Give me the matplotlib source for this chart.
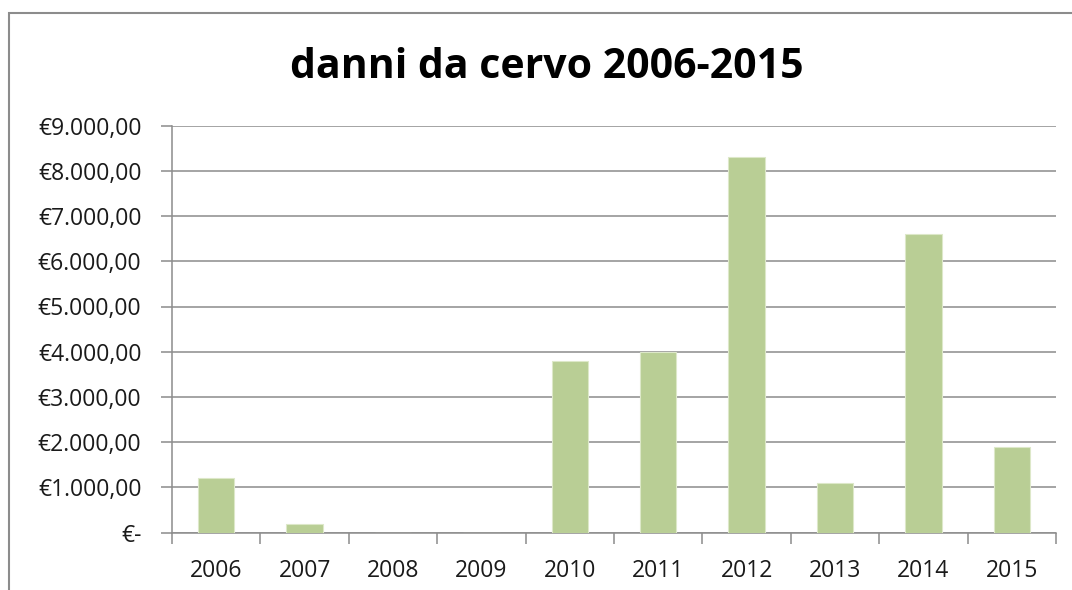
import matplotlib
matplotlib.use("Agg")
import matplotlib.pyplot as plt
from matplotlib.ticker import FuncFormatter, FixedLocator
from matplotlib.patches import Rectangle
import numpy as np

years = ["2006", "2007", "2008", "2009", "2010", "2011", "2012", "2013", "2014", "2015"]
damages = [1200, 180, 0, 0, 3800, 4000, 8300, 1100, 6600, 1900]
y_ticks = [0, 1000, 2000, 3000, 4000, 5000, 6000, 7000, 8000, 9000]
title = "danni da cervo 2006-2015"

plt.rcParams['font.family'] = ['Open Sans', 'DejaVu Sans']

W, H = 1072, 590
fig = plt.figure(figsize=(W / 100, H / 100), dpi=100)
fig.patch.set_facecolor("white")

# outer chart border (cropped on right and bottom)
fig.patches.append(Rectangle((9 / W, -0.1), 1.2, (H - 13) / H + 0.1,
                             transform=fig.transFigure, fill=False,
                             edgecolor="#8c8c8c", linewidth=1.5))

left, right = 172 / W, 1056 / W
bottom, top = 1 - 532.5 / H, 1 - 125.7 / H
ax = fig.add_axes([left, bottom, right - left, top - bottom])

x = np.arange(len(years))
ax.bar(x, damages, width=0.41, color="#B9CE95", edgecolor="#DDE8C9", linewidth=0.8, zorder=3)

ax.set_xlim(-0.5, len(years) - 0.5)
ax.set_ylim(0, 9000)

def fmt(v, pos=None):
    if v == 0:
        return "€-"
    s = f"{v:,.2f}"
    s = s.replace(",", "X").replace(".", ",").replace("X", ".")
    return "€" + s

ax.yaxis.set_major_locator(FixedLocator(y_ticks))
ax.yaxis.set_major_formatter(FuncFormatter(fmt))
ax.grid(axis="y", color="#8c8c8c", linewidth=1.1, zorder=0)

ax.set_xticks(x)
ax.set_xticklabels(years)
ax.set_xticks(np.arange(-0.5, len(years), 1.0), minor=True)
ax.tick_params(axis="x", which="major", length=0, pad=19, labelsize=16.5, labelcolor="#1a1a1a")
ax.tick_params(axis="x", which="minor", length=8, color="#8c8c8c", width=1.1)
ax.tick_params(axis="y", which="major", length=8, color="#8c8c8c", width=1.1,
               pad=14, labelsize=16.5, labelcolor="#1a1a1a")

for side in ["top", "right"]:
    ax.spines[side].set_visible(False)
for side in ["left", "bottom"]:
    ax.spines[side].set_color("#8c8c8c")
    ax.spines[side].set_linewidth(1.1)

fig.text(0.51, 1 - 67 / H, title, ha="center", va="center",
         fontsize=29.5, fontweight="bold", color="#000000")

fig.savefig("out.png", dpi=100, facecolor="white")
